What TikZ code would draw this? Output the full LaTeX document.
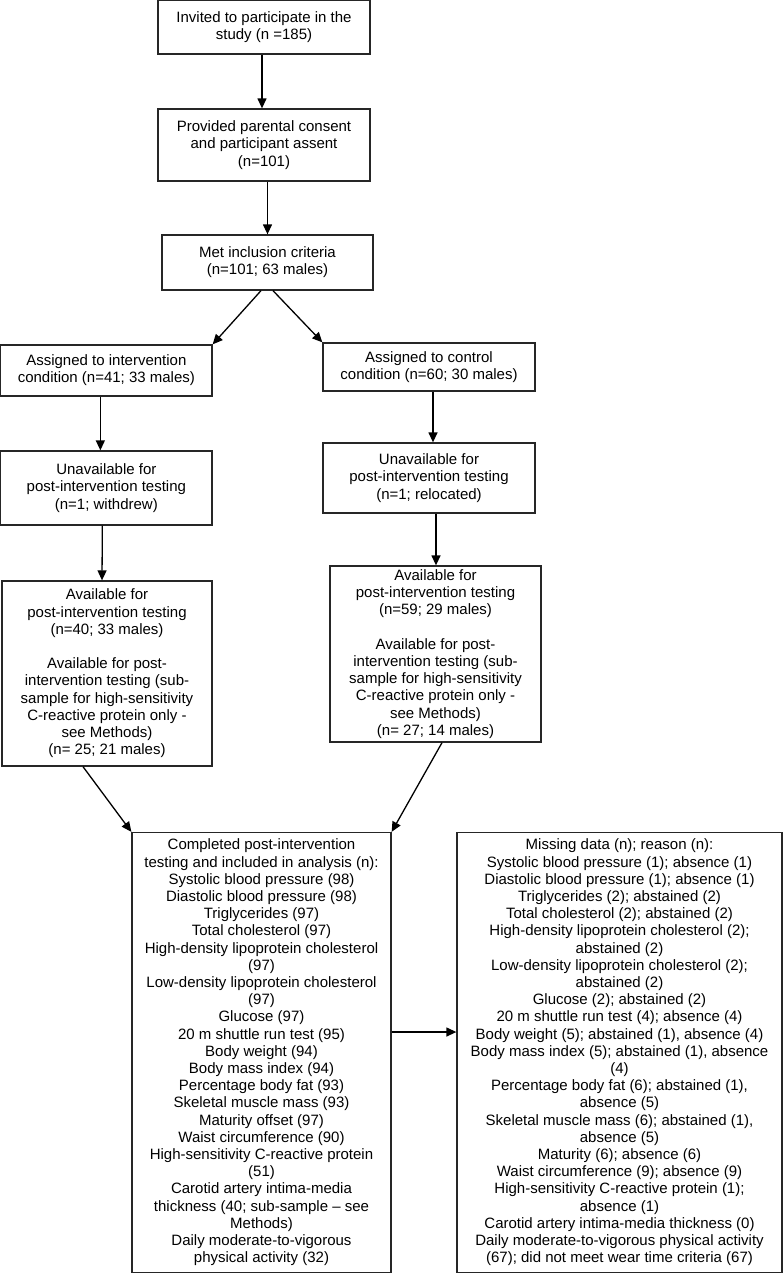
\documentclass[tikz,border=0pt]{standalone}
\usepackage{fontspec}
\setmainfont{Liberation Sans}
\usetikzlibrary{arrows.meta}
\begin{document}
\begin{tikzpicture}[x=1pt,y=-1pt,
  box/.style={draw=black!85,line width=1.3pt,align=center,inner sep=0pt,
    font=\fontsize{15}{17.2}\selectfont,anchor=center},
  arr/.style={draw=black,line width=1.3pt,-{Triangle[length=10pt,width=9pt]}}]
\useasboundingbox (0,0) rectangle (783,1274);
\node[box,minimum width=212pt,minimum height=53.5pt] (n1) at (264,27.3)
  {Invited to participate in the\\study (n =185)};
\node[box,minimum width=212pt,minimum height=72pt] (n2) at (264,145)
  {Provided parental consent\\and participant assent\\(n=101)};
\node[box,minimum width=211pt,minimum height=55pt] (n3) at (267.5,262.5)
  {Met inclusion criteria\\(n=101; 63 males)};
\node[box,minimum width=211.3pt,minimum height=51pt] (n4) at (106.35,370.5)
  {Assigned to intervention\\condition (n=41; 33 males)};
\node[box,minimum width=212pt,minimum height=48pt] (n5) at (429,367)
  {Assigned to control\\condition (n=60; 30 males)};
\node[box,minimum width=211.3pt,minimum height=74pt] (n6) at (106.35,488)
  {Unavailable for\\post-intervention testing\\(n=1; withdrew)};
\node[box,minimum width=212pt,minimum height=70pt] (n7) at (429,478)
  {Unavailable for\\post-intervention testing\\(n=1; relocated)};
\node[box,minimum width=210pt,minimum height=185pt] (n8) at (107,673.5)
  {Available for\\post-intervention testing\\(n=40; 33 males)\\[17.2pt]Available for post-\\intervention testing (sub-\\sample for high-sensitivity\\C-reactive protein only -\\see Methods)\\(n= 25; 21 males)};
\node[box,minimum width=211pt,minimum height=176pt] (n9) at (435.5,654)
  {Available for\\post-intervention testing\\(n=59; 29 males)\\[17.2pt]Available for post-\\intervention testing (sub-\\sample for high-sensitivity\\C-reactive protein only -\\see Methods)\\(n= 27; 14 males)};
\node[box,minimum width=259pt,minimum height=440pt] (n10) at (261.5,1052.5)
  {Completed post-intervention\\testing and included in analysis (n):\\Systolic blood pressure (98)\\Diastolic blood pressure (98)\\Triglycerides (97)\\Total cholesterol (97)\\High-density lipoprotein cholesterol\\(97)\\Low-density lipoprotein cholesterol\\(97)\\Glucose (97)\\20 m shuttle run test (95)\\Body weight (94)\\Body mass index (94)\\Percentage body fat (93)\\Skeletal muscle mass (93)\\Maturity offset (97)\\Waist circumference (90)\\High-sensitivity C-reactive protein\\(51)\\Carotid artery intima-media\\thickness (40; sub-sample – see\\Methods)\\Daily moderate-to-vigorous\\physical activity (32)};
\node[box,minimum width=325pt,minimum height=440pt] (n11) at (619.5,1052.5)
  {Missing data (n); reason (n):\\Systolic blood pressure (1); absence (1)\\Diastolic blood pressure (1); absence (1)\\Triglycerides (2); abstained (2)\\Total cholesterol (2); abstained (2)\\High-density lipoprotein cholesterol (2);\\abstained (2)\\Low-density lipoprotein cholesterol (2);\\abstained (2)\\Glucose (2); abstained (2)\\20 m shuttle run test (4); absence (4)\\Body weight (5); abstained (1), absence (4)\\Body mass index (5); abstained (1), absence\\(4)\\Percentage body fat (6); abstained (1),\\absence (5)\\Skeletal muscle mass (6); abstained (1),\\absence (5)\\Maturity (6); absence (6)\\Waist circumference (9); absence (9)\\High-sensitivity C-reactive protein (1);\\absence (1)\\Carotid artery intima-media thickness (0)\\Daily moderate-to-vigorous physical activity\\(67); did not meet wear time criteria (67)};
\draw[arr] ([xshift=-2pt]n1.south) -- ([xshift=-2pt]n2.north);
\draw[arr] (n2.south -| n3.north) -- (n3.north);
\draw[arr] ([xshift=-6.5pt]n3.south) -- (n4.north east);
\draw[arr] ([xshift=5.5pt]n3.south) -- (n5.north west);
\draw[arr] ([xshift=-6pt]n4.south) -- ([xshift=-6pt]n6.north);
\draw[arr] ([xshift=4pt]n5.south) -- ([xshift=4pt]n7.north);
\draw[arr] ([xshift=-4pt]n6.south) -- ([xshift=-5pt]n8.north);
\draw[arr] ([xshift=7pt]n7.south) -- ([xshift=0.5pt]n9.north);
\draw[arr] ([xshift=-24pt]n8.south) -- (n10.north west);
\draw[arr] ([xshift=6.5pt]n9.south) -- (n10.north east);
\draw[arr] ([yshift=20.5pt]n10.east) -- ([yshift=20.5pt]n11.west);
\end{tikzpicture}
\end{document}
